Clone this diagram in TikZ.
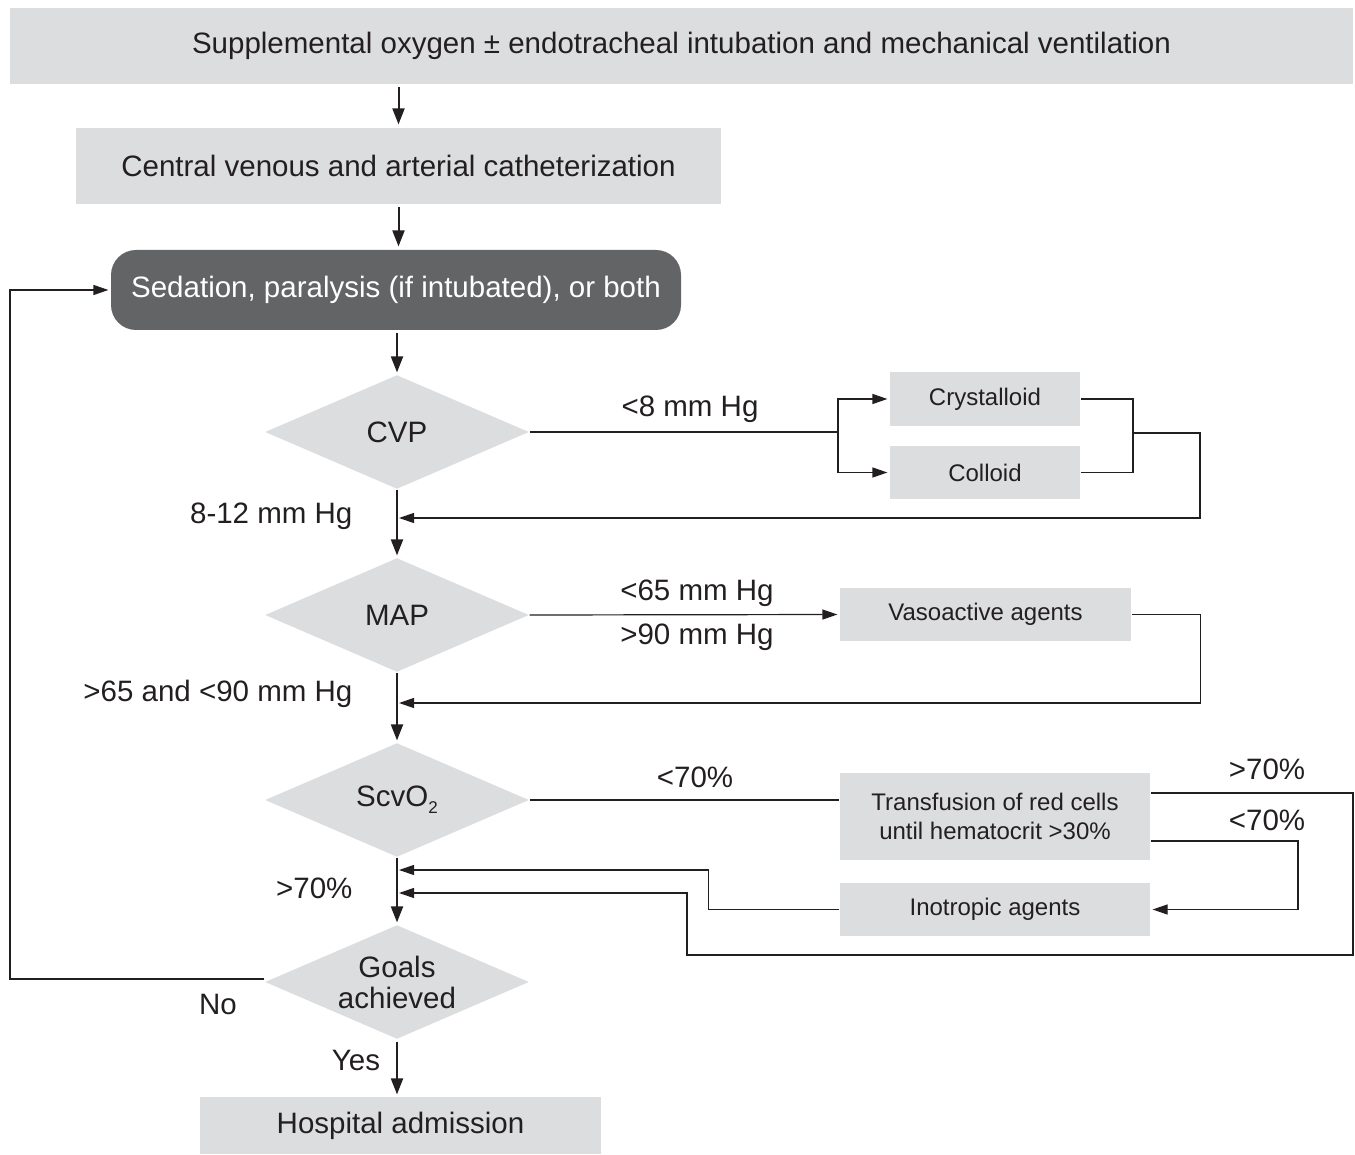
\documentclass[tikz,border=0pt]{standalone}
\usepackage{fontspec}
\setmainfont{Liberation Sans}
\usepackage{tikz}
\usetikzlibrary{shapes.geometric,arrows.meta}

\definecolor{boxgray}{HTML}{DCDDDE}
\definecolor{darkgray}{HTML}{636466}
\definecolor{inkgray}{HTML}{231F20}

\begin{document}
\begin{tikzpicture}[
x=1pt, y=-1pt, % one unit per pixel of the page
>={Triangle[length=15pt,width=10pt]},
line width=1.2pt,
draw=inkgray,
every node/.style={text=inkgray, inner sep=0pt, font=\fontsize{29.5}{31}\selectfont},
box/.style={fill=boxgray, align=center},
darkbox/.style={fill=darkgray, text=white, rounded corners=25pt},
smallbox/.style={box, font=\fontsize{24}{29}\selectfont},
decision/.style={diamond, aspect=2.32, fill=boxgray, align=center, minimum width=264pt, minimum height=114pt},
spine/.style={->, line width=2pt, >={Triangle[length=16pt,width=12pt]}},
lbl/.style={font=\fontsize{29.5}{33}\selectfont}
]
\useasboundingbox (0,0) rectangle (1355,1155);

% ================= Main column =================
\node[box, minimum width=1343pt, minimum height=76pt] (oxy) at (681.5, 46) {Supplemental oxygen \textpm{} endotracheal intubation and mechanical ventilation};
\node[box, minimum width=645pt, minimum height=76pt] (cath) at (398.5, 166) {Central venous and arterial catheterization};
\node[darkbox, minimum width=570pt, minimum height=80pt] (sed) at (396, 290) {Sedation, paralysis (if intubated), or both};

\node[decision] (cvp) at (397, 432) {CVP};
\node[decision] (map) at (397, 615) {MAP};
\node[decision] (scv) at (397, 800) {ScvO\raisebox{-7pt}{\fontsize{17}{17}\selectfont 2}};
\node[decision] (goals) at (397, 982) {Goals\\achieved};

\node[box, minimum width=401pt, minimum height=57pt] (hosp) at (400.5, 1125.5) {Hospital admission};

% ================= Side treatments =================
\node[smallbox, minimum width=190pt, minimum height=54pt] (cryst) at (985, 399) {Crystalloid};
\node[smallbox, minimum width=190pt, minimum height=53pt] (coll) at (985, 472.5) {Colloid};
\node[smallbox, minimum width=291pt, minimum height=53pt] (vaso) at (985.5, 614.5) {Vasoactive agents};
\node[smallbox, minimum width=310pt, minimum height=87pt] (trans) at (995, 816.5) {Transfusion of red cells\\until hematocrit >30\%};
\node[smallbox, minimum width=310pt, minimum height=53pt] (ino) at (995, 909.5) {Inotropic agents};

% ================= Junction points =================
\coordinate (cvpsplit) at (838, 432);
\coordinate (fluidjoin) at (1133, 433);
\coordinate (cvpret) at (399, 518);
\coordinate (mapret) at (399, 703);
\coordinate (scvretA) at (399, 870);
\coordinate (scvretB) at (399, 893);

% ================= Edges =================
\draw[spine, shorten <=2pt, shorten >=3pt] (oxy.south -| cath.north) -- (cath.north);
\draw[spine, shorten <=2pt, shorten >=3pt] (cath) -- (sed.north -| cath.south);
\draw[spine, shorten <=2pt, shorten >=2pt] (sed.south -| cvp.north) -- (cvp.north);

% CVP: fluids loop
\draw (cvp.east) -- (cvpsplit);
\draw[->, shorten >=2pt] (cvpsplit) |- (cryst.west);
\draw[->, shorten >=2pt] (cvpsplit) |- (coll.west);
\draw (cryst.east) -| (fluidjoin);
\draw (coll.east) -| (fluidjoin);
\draw[->] (fluidjoin) -- (1200, 433) |- (cvpret);
\draw[spine, shorten >=2pt] (cvp.south) -- (map.north);

% MAP: vasoactive loop
\draw[->, shorten >=2pt] (map.east) -- (vaso.west);
\draw[->] (vaso.east) -- ++(69, 0) |- (mapret);
\draw[spine, shorten >=2pt] (map.south) -- (scv.north);

% ScvO2: transfusion and inotropes
\draw (scv.east) -- (scv.east -| trans.west);
\draw[->] ([yshift=23.5pt]trans.east) -- (1353, 793) -- (1353, 955) -- (687, 955) |- (scvretB);
\draw[->, shorten >=2pt] ([yshift=-24.5pt]trans.east) -- (1298, 841) |- (ino.east);
\draw[->] (ino.west) -- ++(-131, 0) |- (scvretA);
\draw[spine, shorten >=2pt] (scv.south) -- (goals.north);

% Goals: back to sedation or admit
\draw[->, shorten >=2pt] ([yshift=3pt]goals.west) -- (10, 979) |- (sed.west);
\draw[spine, shorten <=2pt, shorten >=2pt] (goals.south) -- (hosp.north -| goals.south);

% ================= Labels =================
\node[lbl] (lcvpa) at (690, 409) {<8 mm Hg};
\node[lbl, anchor=east] (lcvpb) at (353, 516) {8-12 mm Hg};
\node[lbl] (lmapa) at (697, 593) {<65 mm Hg};
\node[lbl] (lmapb) at (697, 637) {>90 mm Hg};
\node[lbl, anchor=east] (lmapc) at (353, 694) {>65 and <90 mm Hg};
\node[lbl] (lscva) at (695, 777) {<70\%};
\node[lbl] (ltransa) at (1267, 769) {>70\%};
\node[lbl] (ltransb) at (1267, 820) {<70\%};
\node[lbl, anchor=east] (lscvb) at (353, 888) {>70\%};
\node[lbl] (lno) at (218, 1004) {No};
\node[lbl] (lyes) at (356, 1060) {Yes};

\end{tikzpicture}
\end{document}
